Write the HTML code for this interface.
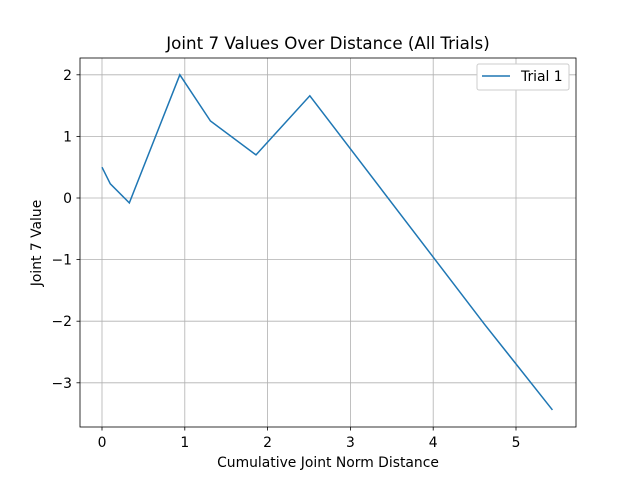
<!DOCTYPE html>
<html><head><meta charset="utf-8"><style>
body{margin:0;background:#fff;font-family:"DejaVu Sans","Liberation Sans",sans-serif}
</style></head><body>
<svg width="640" height="480" viewBox="0 0 640 480" id="svg">
<rect width="640" height="480" fill="#fff"/>
<text x="328" y="49" font-size="16.7" text-anchor="middle">Joint 7 Values Over Distance (All Trials)</text>
<g id="grid"></g>
<g id="ticks"></g>
<polyline id="line" fill="none" stroke="#1f77b4" stroke-width="1.5"/>
<rect x="80" y="58" width="496" height="369" fill="none" stroke="#000" stroke-width="0.8"/>
<text x="328" y="467" font-size="13.9" text-anchor="middle">Cumulative Joint Norm Distance</text>
<text x="0" y="0" font-size="13.9" text-anchor="middle" transform="translate(41,243) rotate(-90)">Joint 7 Value</text>
<g>
<rect x="477" y="64" width="92" height="26" rx="2" fill="#fff" stroke="#ccc"/>
<line x1="482" y1="76" x2="510" y2="76" stroke="#1f77b4" stroke-width="1.5"/>
<text x="521" y="81" font-size="13.9">Trial 1</text>
</g>
</svg>
<script>
const xs=[0,0.1,0.33,0.94,1.31,1.86,2.51,4.62,5.44];
const ys=[0.5,0.23,-0.08,2.0,1.25,0.70,1.66,-2.05,-3.44];
const xTicks=[0,1,2,3,4,5];
const yTicks=[2,1,0,-1,-2,-3];
const yTickLabels=["2","1","0","\u22121","\u22122","\u22123"];
const X=v=>102+v*82.8, Y=v=>198-v*61.6;
const NS="http://www.w3.org/2000/svg";
const g=document.getElementById('grid'),t=document.getElementById('ticks');
function mk(tag,a,p){const e=document.createElementNS(NS,tag);for(const k in a)e.setAttribute(k,a[k]);p.appendChild(e);return e;}
xTicks.forEach(v=>{
 const l=mk('line',{x1:X(v),x2:X(v),y1:58,y2:427,stroke:'#b0b0b0','stroke-width':0.8},g);
 
 
 const k=mk('line',{x1:X(v),x2:X(v),y1:427,y2:430.5,stroke:'#000','stroke-width':0.8},t);
 
 
 const tx=mk('text',{x:X(v),y:447,'font-size':13.9,'text-anchor':'middle'},t);tx.textContent=v;
 
 
});
yTicks.forEach((v,i)=>{
 const l=mk('line',{x1:80,x2:576,y1:Y(v),y2:Y(v),stroke:'#b0b0b0','stroke-width':0.8},g);
 
 
 const k=mk('line',{x1:76.5,x2:80,y1:Y(v),y2:Y(v),stroke:'#000','stroke-width':0.8},t);
 
 
 const tx=mk('text',{x:72,y:Y(v)+5,'font-size':13.9,'text-anchor':'end'},t);tx.textContent=yTickLabels[i];
 
 
});
document.getElementById('line').setAttribute('points',xs.map((v,i)=>X(v)+','+Y(ys[i])).join(' '));
</script>
</body></html>
